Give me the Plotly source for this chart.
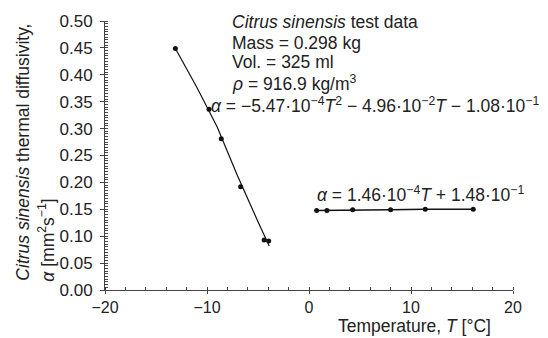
import plotly.graph_objects as go

# Data
frozen_T = [-13.1, -9.8, -8.6, -6.7, -4.4, -3.95]
frozen_a = [0.449, 0.336, 0.281, 0.192, 0.093, 0.091]
frozen_fit_T = [-13.1, -11.0, -9.0, -7.0, -5.0, -3.9]
frozen_fit_a = [0.449, 0.377, 0.303, 0.212, 0.127, 0.082]

thawed_T = [0.75, 1.76, 4.28, 8.0, 11.4, 16.1]
thawed_a = [0.148, 0.148, 0.149, 0.149, 0.150, 0.150]

x_ticks = [-20, -10, 0, 10, 20]
x_ticklabels = ["\u221220", "\u221210", "0", "10", "20"]
y_ticks = [0.00, 0.05, 0.10, 0.15, 0.20, 0.25, 0.30, 0.35, 0.40, 0.45, 0.50]
y_ticklabels = ["%.2f" % v for v in y_ticks]

FONT = "Liberation Sans, Arial, Helvetica, sans-serif"
BLACK = "#111111"
AX = "#444444"
TXT = 17.5

fig = go.Figure()
fig.add_trace(go.Scatter(x=frozen_fit_T, y=frozen_fit_a, mode="lines",
                         line=dict(color=BLACK, width=1.2), showlegend=False))
fig.add_trace(go.Scatter(x=frozen_T, y=frozen_a, mode="markers",
                         marker=dict(color=BLACK, size=5), showlegend=False))
fig.add_trace(go.Scatter(x=thawed_T, y=thawed_a, mode="lines+markers",
                         line=dict(color=BLACK, width=1.5),
                         marker=dict(color=BLACK, size=5), showlegend=False))

fig.update_layout(
    width=548, height=338,
    margin=dict(l=105, r=35, t=16, b=48),
    paper_bgcolor="white", plot_bgcolor="white",
    font=dict(family=FONT, size=TXT, color="#222222"),
    xaxis=dict(range=[-20, 20], tickvals=x_ticks, ticktext=x_ticklabels,
               showgrid=False, zeroline=False, showline=True,
               linecolor=AX, linewidth=1,
               ticks="outside", ticklen=3, tickcolor=AX,
               minor=dict(dtick=2, ticks="inside", ticklen=3, tickcolor=AX),
               tickfont=dict(size=16)),
    yaxis=dict(range=[0, 0.5], tickvals=y_ticks, ticktext=y_ticklabels,
               showgrid=False, zeroline=False, showline=True,
               linecolor=AX, linewidth=1,
               ticks="outside", ticklen=4, tickcolor=AX, ticklabelstandoff=4,
               minor=dict(dtick=0.005, ticks="inside", ticklen=3, tickcolor=AX),
               tickfont=dict(size=17)),
)

ann = []
info_lines = ["<i>Citrus sinensis</i> test data", "Mass = 0.298 kg",
              "Vol. = 325 ml", "<i>\u03c1</i> = 916.9 kg/m<sup>3</sup>"]
info_y = [17, 38, 58, 79]
for txt, py in zip(info_lines, info_y):
    ann.append(dict(text=txt, xref="paper", yref="paper",
                    x=(230 - 105) / 408, y=(290 - py) / 274,
                    xanchor="left", yanchor="middle", showarrow=False,
                    font=dict(size=TXT)))
ann.append(dict(text="<i>\u03b1</i> = \u22125.47\u00b710<sup>\u22124</sup><i>T</i><sup>2</sup> \u2212 4.96\u00b710<sup>\u22122</sup><i>T</i> \u2212 1.08\u00b710<sup>\u22121</sup>",
                xref="paper", yref="paper", x=(209 - 105) / 408, y=(290 - 102) / 274,
                xanchor="left", yanchor="middle", showarrow=False, font=dict(size=TXT)))
ann.append(dict(text="<i>\u03b1</i> = 1.46\u00b710<sup>\u22124</sup><i>T</i> + 1.48\u00b710<sup>\u22121</sup>",
                xref="paper", yref="paper", x=(315 - 105) / 408, y=(290 - 192) / 274,
                xanchor="left", yanchor="middle", showarrow=False, font=dict(size=TXT)))
ann.append(dict(text="Temperature, <i>T</i> [\u00b0C]", xref="paper", yref="paper",
                x=(414 - 105) / 408, y=(290 - 339) / 274,
                xanchor="center", yanchor="bottom", showarrow=False, font=dict(size=17.5)))
ann.append(dict(text="<i>Citrus sinensis</i> thermal diffusivity,", xref="paper", yref="paper",
                x=(23 - 105) / 408, y=(290 - 283) / 274, textangle=-90,
                xanchor="center", yanchor="bottom", showarrow=False, font=dict(size=TXT)))
ann.append(dict(text="<i>\u03b1</i> [mm<sup>2</sup>s<sup>\u22121</sup>]", xref="paper", yref="paper",
                x=(46 - 105) / 408, y=(290 - 283) / 274, textangle=-90,
                xanchor="center", yanchor="bottom", showarrow=False, font=dict(size=TXT)))
fig.update_layout(annotations=ann)

fig.write_html("out.html")
